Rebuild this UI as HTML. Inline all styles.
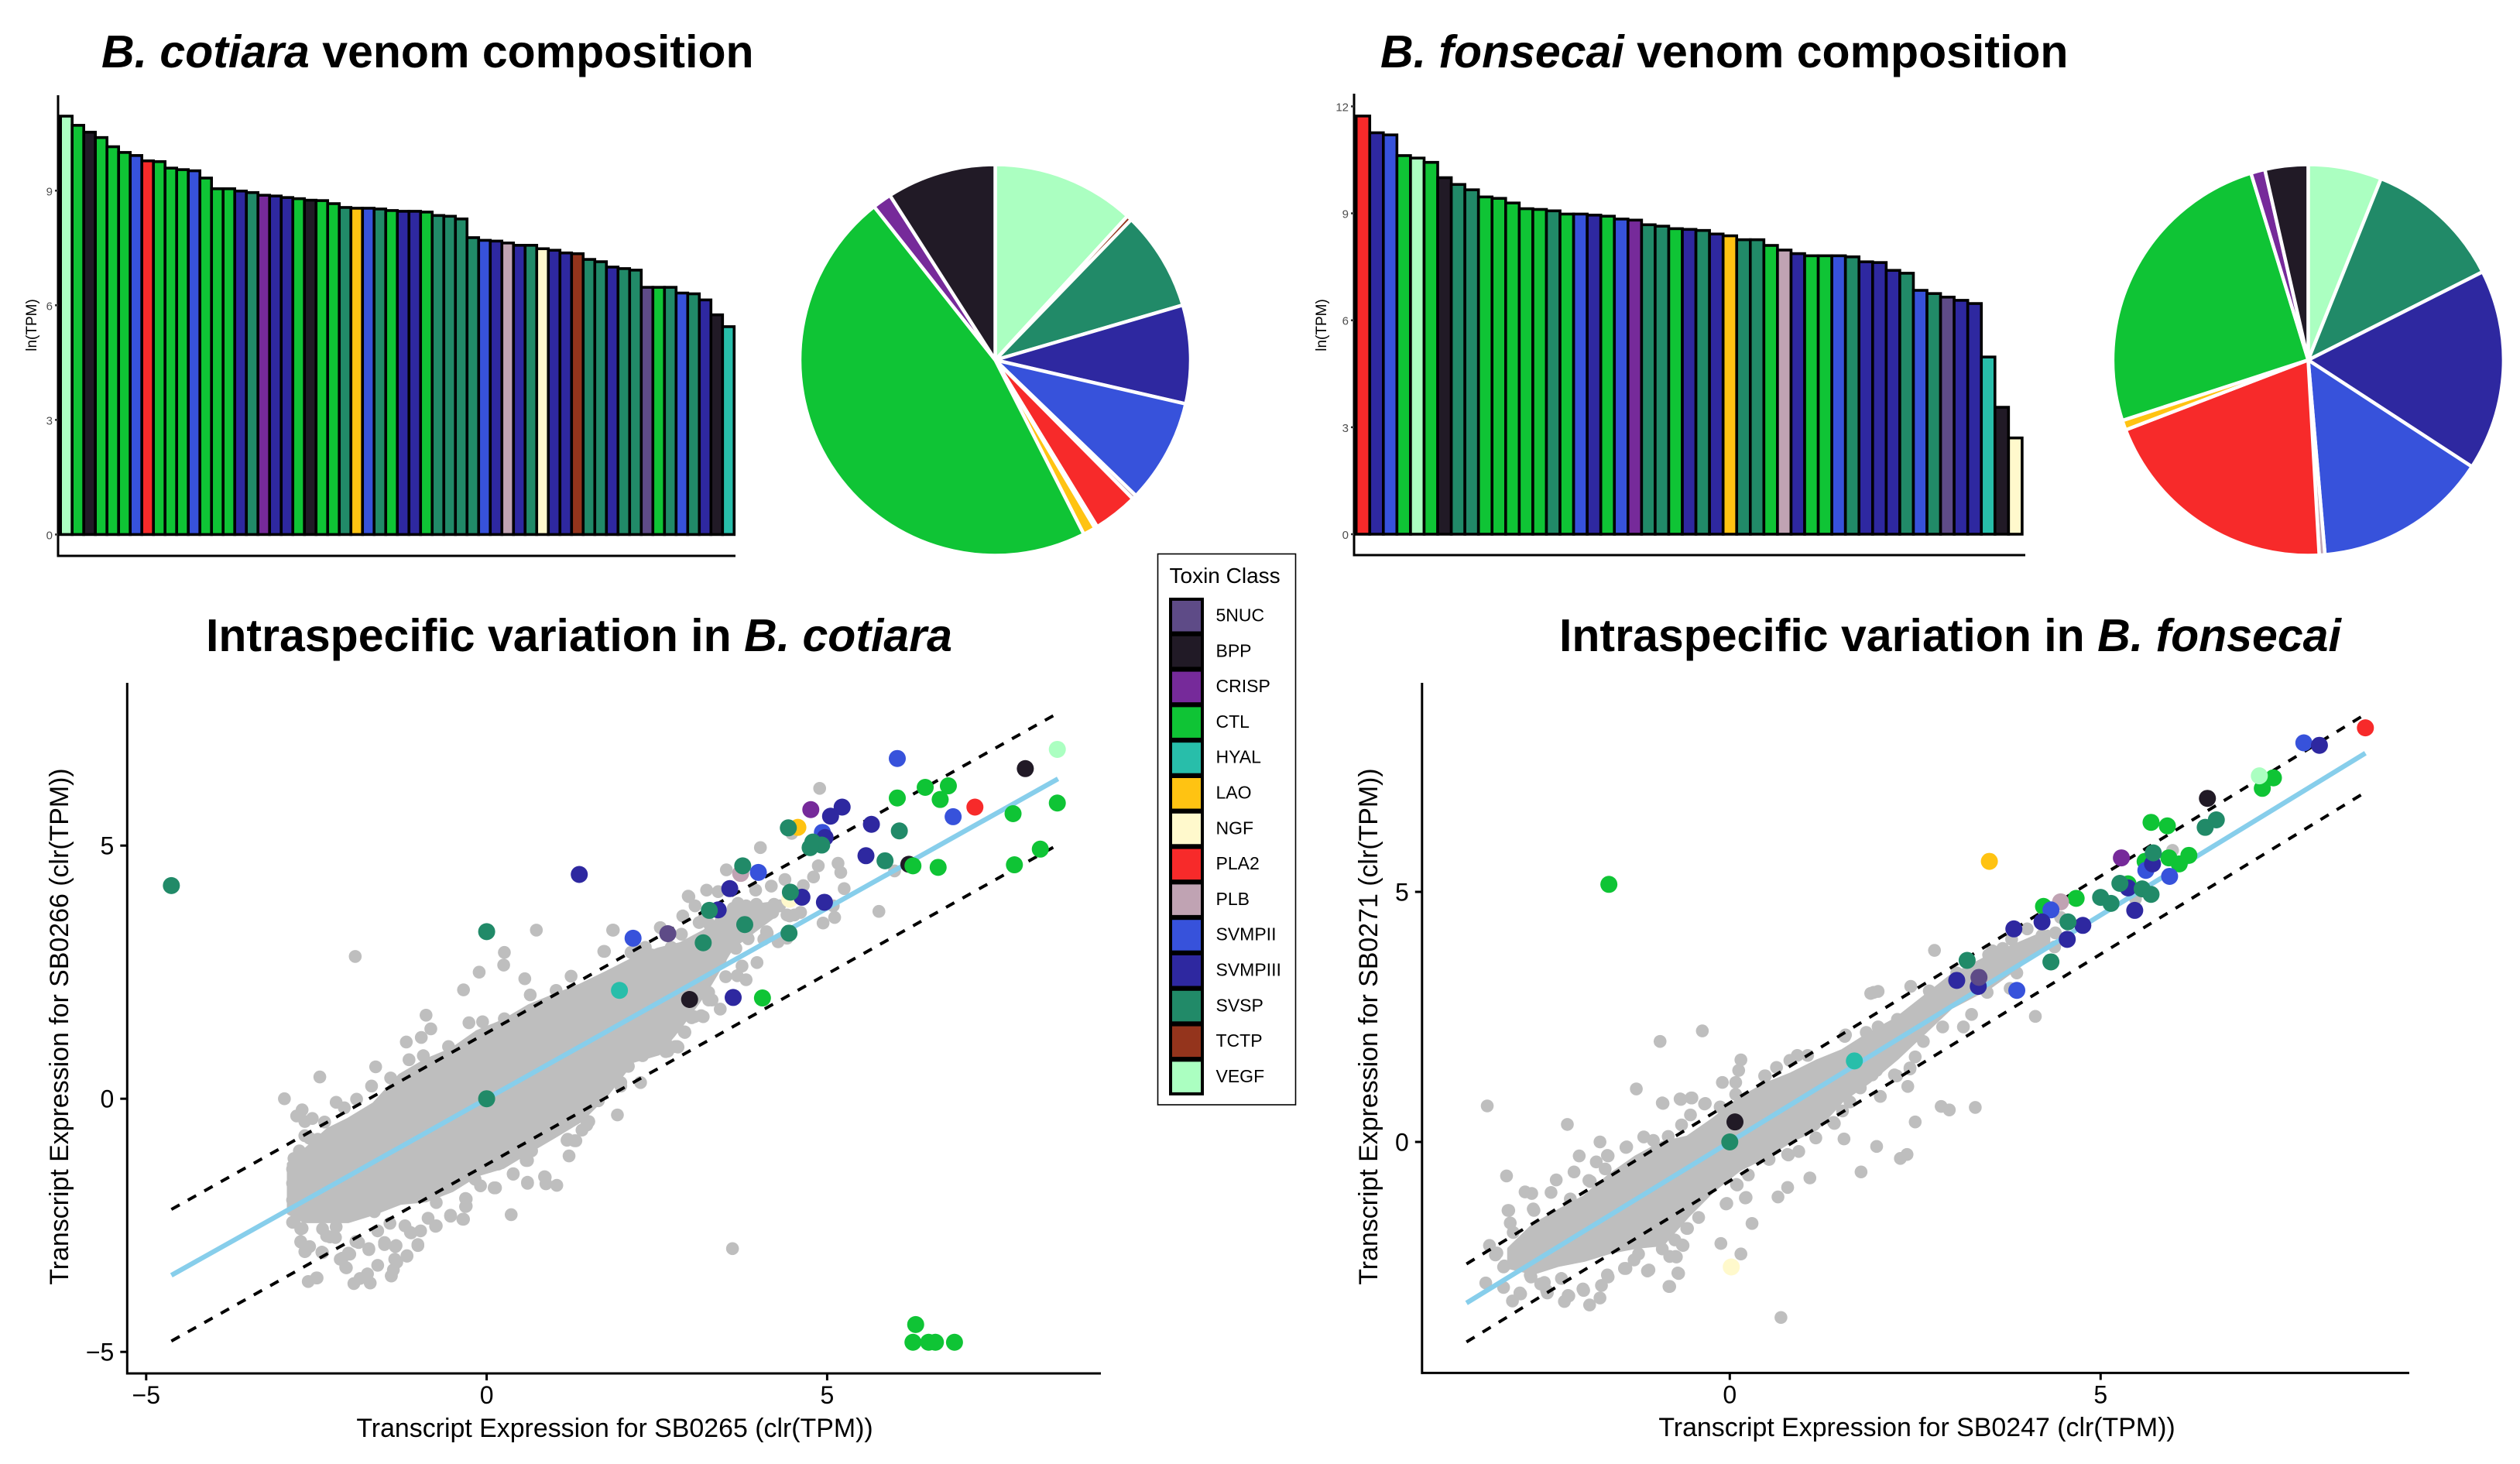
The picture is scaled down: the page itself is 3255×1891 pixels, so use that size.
<!DOCTYPE html>
<html lang="en">
<head>
<meta charset="utf-8">
<title>Venom composition and intraspecific variation</title>
<style>
html,body{margin:0;padding:0;background:#fff}
svg{display:block}
text{font-family:"Liberation Sans",sans-serif;fill:#000}
.title{font-size:59px;font-weight:700}
.title tspan.i{font-style:italic}
.axis-title{font-size:33.9px}
.tick{font-size:32px}
.small-tick{font-size:15px;fill:#4d4d4d}
.small-title{font-size:19px}
.legend-label{font-size:23px}
</style>
</head>
<body>
<svg id="fig" xmlns="http://www.w3.org/2000/svg" width="3255" height="1891" viewBox="0 0 3255 1891">
  <rect width="3255" height="1891" fill="#fff"/>
  <text class="title" x="131" y="87"><tspan class="i">B. cotiara</tspan> venom composition</text>
  <text class="title" x="1783" y="87"><tspan class="i">B. fonsecai</tspan> venom composition</text>
  <text class="title" x="266" y="841">Intraspecific variation in <tspan class="i">B. cotiara</tspan></text>
  <text class="title" x="2014" y="841">Intraspecific variation in <tspan class="i">B. fonsecai</tspan></text>

  <g id="bars1"></g>
  <g id="pie1"></g>
  <g id="bars2"></g>
  <g id="pie2"></g>
  <g id="scatter1"></g>
  <g id="scatter2"></g>

  <g id="legend">
    <rect x="1495.5" y="715.5" width="178" height="711.5" fill="#fff" stroke="#000" stroke-width="1.6"/>
    <text x="1510.5" y="753" style="font-size:28px">Toxin Class</text>
  </g>
</svg>
<script>
// ---------- shared class palette ----------
const classNames = ['5NUC','BPP','CRISP','CTL','HYAL','LAO','NGF','PLA2','PLB','SVMPII','SVMPIII','SVSP','TCTP','VEGF'];
const classColors = ['#5E4B87','#211A26','#762A9A','#0FC435','#28BEAA','#FFC312','#FFF9CC','#F72A2A','#C0A3B3','#3752DB','#2E28A0','#218A68','#94341C','#ABFFC1'];

// ---------- bar chart data ----------
const barClasses1 = ['VEGF','CTL','BPP','CTL','CTL','CTL','SVMPII','PLA2','CTL','CTL','CTL','SVMPII','CTL','CTL','CTL','SVMPIII','SVSP','CRISP','SVMPIII','SVMPIII','CTL','BPP','CTL','CTL','SVSP','LAO','SVMPII','SVSP','CTL','SVMPIII','SVMPIII','CTL','SVSP','SVSP','SVSP','SVSP','SVMPII','SVMPIII','PLB','SVMPIII','SVSP','NGF','SVMPIII','SVMPIII','TCTP','SVSP','SVSP','SVMPIII','SVSP','SVSP','5NUC','CTL','SVSP','SVMPII','SVSP','SVMPIII','BPP','HYAL'];
const barValues1 = [10.95,10.71,10.53,10.39,10.15,10.0,9.92,9.78,9.76,9.59,9.55,9.52,9.33,9.05,9.05,8.99,8.95,8.88,8.86,8.82,8.79,8.75,8.74,8.66,8.56,8.54,8.54,8.52,8.48,8.46,8.46,8.44,8.35,8.33,8.26,7.77,7.70,7.68,7.63,7.57,7.57,7.48,7.44,7.37,7.35,7.20,7.14,7.0,6.96,6.92,6.47,6.47,6.47,6.32,6.30,6.14,5.75,5.44];
const barTicks1 = [0,3,6,9];
const barClasses2 = ['PLA2','SVMPIII','SVMPII','CTL','VEGF','CTL','BPP','SVSP','SVSP','CTL','CTL','CTL','CTL','CTL','SVSP','CTL','SVMPII','SVMPIII','CTL','SVMPII','CRISP','SVSP','SVSP','CTL','SVMPIII','SVSP','SVMPIII','LAO','SVSP','SVSP','CTL','PLB','SVMPIII','CTL','CTL','SVMPII','SVSP','SVMPIII','SVMPIII','SVMPIII','SVSP','SVMPII','SVSP','5NUC','SVMPIII','SVMPIII','HYAL','BPP','NGF'];
const barValues2 = [11.73,11.26,11.2,10.62,10.55,10.43,10.0,9.81,9.66,9.46,9.42,9.29,9.13,9.11,9.07,8.98,8.98,8.95,8.92,8.84,8.81,8.68,8.64,8.57,8.55,8.52,8.42,8.37,8.26,8.26,8.1,7.97,7.87,7.81,7.81,7.81,7.78,7.64,7.62,7.4,7.32,6.84,6.75,6.65,6.56,6.47,4.97,3.56,2.7];
const barTicks2 = [0,3,6,9,12];

// ---------- pie chart data (percent of total, clockwise from 12 o'clock) ----------
const pieClasses1 = ['VEGF','TCTP','SVSP','SVMPIII','SVMPII','PLB','PLA2','NGF','LAO','CTL','CRISP','BPP'];
const pieValues1 = [11.83,0.42,8.22,8.14,8.61,0.36,3.69,0.22,1.03,46.86,1.58,9.06];
const pieClasses2 = ['VEGF','SVSP','SVMPIII','SVMPII','PLB','PLA2','LAO','CTL','CRISP','BPP'];
const pieValues2 = [6.08,11.47,16.64,14.44,0.47,20.08,0.81,25.28,1.17,3.56];

// ---------- scatter 1 (B. cotiara) data ----------
const xTicks1 = [-5,0,5];
const yTicks1 = [-5,0,5];
const fitSlope1 = 0.753;
const fitBand1 = 1.3;
const fitRange1 = [-4.63,8.39];
// saturated overplotted core of the grey cloud: x, upper edge, lower edge
const coreX1 = [-2.9,-2.67,-2.33,-2.03,-1.65,-1.27,-0.89,-0.51,-0.14,0.24,0.62,1.0,1.38,1.76,2.14,2.52,2.85,3.2,3.6,4.2];
const coreUpper1 = [-1.29,-1.03,-0.62,-0.42,-0.11,0.45,0.75,0.96,1.31,1.52,1.82,2.03,2.23,2.48,2.74,2.94,3.05,3.3,3.75,3.85];
const coreLower1 = [-2.25,-2.41,-2.41,-2.41,-2.25,-2.05,-2.0,-1.8,-1.49,-1.34,-1.03,-0.73,-0.42,0.09,0.75,0.9,1.45,2.1,3.0,3.6];
const grayPoints1 = [[-1.93,2.81],[0.73,3.33],[1.86,3.33],[0.26,2.89],[0.25,2.64],[-0.11,2.5],[-0.34,2.15],[0.56,2.37],[1.72,2.91],[-0.89,1.65],[-0.82,1.38],[-0.96,1.21],[-1.18,1.12],[-0.26,1.5],[-0.06,1.52],[-0.56,1.03],[-1.14,0.77],[-0.93,0.85],[-1.63,0.63],[-1.41,0.41],[-1.69,0.25],[-2.45,0.43],[-2.97,0],[-2.21,-0.07],[-1.91,-0.01],[-2.71,-0.22],[-2.79,-0.34],[-2.56,-0.39],[-2.67,-0.45],[-2.38,-0.46],[-2.09,-0.18],[0.64,2.05],[1.02,2.14],[1.24,2.42],[0.26,1.58],
[0.36,-2.29],[1.21,-1.13],[1.92,-0.32],[2.26,0.32],[1.97,0.25],[1.03,-1.71],[0.86,-1.55],[0.87,-1.68],[0.6,-1.67],[0.11,-1.76],[-0.09,-1.72],[0.39,-1.49],[0.6,-1.22],[1.18,-0.82],[1.31,-0.83],[1.5,-0.45],[-0.35,-2.38],[-0.3,-2.12],[-0.3,-1.98],[-0.53,-2.32],[-0.75,-2.52],[-1.01,-2.9],[-0.97,-2.61],[-1.17,-3.11],[-1.32,-3.23],[-1.4,-3.5],[-1.34,-2.92],[-1.5,-2.88],[-1.6,-3.29],[-1.73,-2.98],[-1.71,-3.64],[-1.75,-3.46],[-1.95,-3.65],[-2.06,-3.34],[-2.15,-3.17],[-2.01,-3.07],[-2.41,-3.04],[-2.5,-3.54],[-2.62,-3.61],[-2.66,-3.01],[-2.73,-2.83],[-2.3,-2.73],[-2.41,-2.57],[-2.85,-2.44],[-2.73,-2.57],[-1.88,-2.84],[-1.6,-2.61],[-2.21,-2.53],[-1.11,-2.65],[2.97,3.99],[2.88,3.61],[2.66,0.94],[2.81,1.02],[2.91,1.31],[3.01,1.6],
[4.89,6.13],[4.48,5.24],[4.02,4.96],[3.52,4.52],[4.87,4.6],[5.16,4.65],[5.2,4.47],[4.8,4.38],[5.25,4.15],[5.76,3.7],[4.38,4.33],[4.18,4.2],[4.65,4.21],[3.95,4.12],[3.23,4.12],[2.96,4.0],[3.4,4.09],[3.06,3.81],[2.55,3.38],[1.85,3.33],[1.73,2.91],[5.11,3.58],[4.94,3.47],[4.61,3.68],[4.45,3.61],[4.12,3.27],[4.28,3.1],[3.84,3.16],[3.66,2.97],[3.97,2.69],[3.75,2.62],[3.43,2.75],[3.51,2.41],[3.81,2.35],[3.68,2.43],[3.43,1.77],[3.26,1.95],[2.9,1.32],[3.18,1.62],[3.04,1.62],[2.74,1.7],[2.69,1.31],[2.77,1.03],[2.63,0.93],[2.08,0.64],[1.97,0.32],[5.99,4.5],[2.99,2.98],[3.61,-2.96],
[5.09,3.81],[4.52,3.63],[4.41,3.63],[4.3,3.81],[4.22,3.84],[4.2,3.68],[4.07,3.63],[3.96,3.84],[3.81,3.81],[3.69,3.86],[3.2,3.61],[3.44,3.5],[3.27,3.45],[3.12,3.48],[3.62,3.76],[3.54,3.61],[3.63,3.35],[3.65,3.17],[4.11,3.3],[4.07,3.15],[4.41,3.17],[3.35,3.25],[3.41,3.17],[3.31,3.05],[2.86,3.25],[2.71,2.99],[2.8,2.79],[3.12,2.66],[3.12,2.48],[2.67,2.69],[2.67,2.48],[2.48,2.28],[2.25,2.56],[2.14,2.43],[2.42,2.84],[2.33,2.99],[2.23,2.92],[2.12,2.89],[3.26,2.1],[3.31,1.95],[3.15,1.64],[3.05,1.62],[2.86,1.7],[2.91,1.32],[2.67,1.33],[2.8,1.03],[2.65,1.06],[2.9,2.43],[3.09,2.38],[2.71,2.23],[2.9,2.18],[3.09,2.18],[2.52,1.92],[2.78,1.98],[2.48,1.62],[2.33,1.41],
[-2.6,-0.78],[-2.48,-0.8],[-2.75,-1.03],[-2.83,-1.18],[-2.85,-1.39],[-2.85,-1.67],[-2.85,-2.0],[-2.67,-0.73],[-2.83,-2.43],[-2.71,-2.56],[-2.73,-2.82],[-2.67,-3.02],[-2.42,-3.03],[-2.6,-2.92],[-2.49,-3.54],[-2.35,-2.71],[-2.22,-2.74],[-1.86,-3.55],[-1.4,-3.5],[-1.37,-3.38],[-1.35,-3.17],[-1.17,-3.1],[-2.07,-3.33],[-2.12,-3.15],[-2.03,-3.05],[-1.92,-2.82],[-1.73,-2.96],[-1.5,-2.84],[-1.33,-2.9],[-1.01,-2.88],[-1.12,-2.64],[-1.42,-2.46],[-1.2,-2.51],[-0.74,-2.51],[-0.86,-2.36],[-1.65,-2.23],[-0.74,-2.05],[-0.53,-2.3],[-0.34,-2.38],[-0.31,-2.13],[-0.31,-1.97],[0.6,-1.65],[0.85,-1.54],[0.39,-1.48],[0.13,-1.76],[-0.17,-1.59],[0.58,-1.22],[0.17,-1.29],[2.08,0.64],[1.19,-0.8],[1.29,-0.83],[1.47,-0.52],[1.4,-0.62],[0.81,-0.78],[0.66,-1.03],[1.64,-0.04],[2.29,0.85],[2.59,1.0]];
const highlights1 = [['SVMPIII',1.36,4.43],['SVMPII',6.03,6.72],['VEGF',8.38,6.9],['BPP',7.91,6.52],['CTL',6.78,6.18],['CTL',6.44,6.15],['CTL',6.66,5.91],['CTL',6.03,5.94],['PLA2',7.17,5.76],['CTL',8.38,5.84],['SVMPII',6.85,5.57],['CTL',7.73,5.63],['CRISP',4.76,5.71],['SVMPIII',5.22,5.76],['SVMPIII',5.05,5.58],['SVMPIII',5.65,5.42],['SVSP',6.06,5.29],['LAO',4.57,5.36],['SVSP',4.43,5.35],['SVMPII',4.93,5.26],['SVMPIII',4.97,5.16],['SVSP',4.79,5.07],['SVSP',4.92,5.01],['SVSP',4.75,4.96],['CTL',8.13,4.93],['CTL',7.75,4.62],['SVMPIII',5.57,4.8],['SVSP',5.85,4.7],['BPP',6.2,4.63],['CTL',6.26,4.6],['CTL',6.63,4.57],['PLB',3.73,4.45],['SVSP',3.76,4.6],['SVMPII',3.99,4.47],['SVMPIII',3.57,4.15],['NGF',4.45,3.94],['SVMPIII',4.63,3.98],['SVSP',4.46,4.08],['SVMPIII',4.96,3.88],['SVMPIII',3.4,3.73],['SVSP',3.27,3.72],['SVSP',3.79,3.44],['SVSP',4.44,3.27],['SVSP',3.18,3.08],['5NUC',2.66,3.26],['SVMPII',2.15,3.17],['HYAL',1.95,2.14],['BPP',2.98,1.96],['SVMPIII',3.62,2.0],['CTL',4.05,1.99],['SVSP',-4.63,4.21],['SVSP',0,3.3],['SVSP',0,0],['CTL',6.3,-4.46],['CTL',6.26,-4.81],['CTL',6.49,-4.81],['CTL',6.59,-4.81],['CTL',6.87,-4.81]];

// ---------- scatter 2 (B. fonsecai) data ----------
const xTicks2 = [0,5];
const yTicks2 = [0,5];
const fitSlope2 = 0.907;
const fitBand2 = 0.78;
const fitRange2 = [-3.55,8.57];
const coreX2 = [-2.97,-2.65,-2.31,-1.96,-1.61,-1.26,-0.91,-0.57,-0.22,0.13,0.48,0.82,1.17,1.52,1.87,2.25,2.98,3.5,4.29];
const coreUpper2 = [-2.14,-1.68,-1.39,-1.11,-0.67,-0.31,-0.03,0.08,0.44,0.85,1.14,1.34,1.6,1.81,2.14,2.45,3.3,3.7,4.2];
const coreLower2 = [-2.5,-2.61,-2.45,-2.35,-2.19,-2.09,-2.04,-1.47,-0.95,-0.54,-0.28,0.03,0.28,0.85,1.21,1.68,2.7,3.1,3.95];
const grayPoints2 = [[-3.27,0.72],[-2.19,0.35],[-0.94,2.01],[-0.37,2.22],[-1.26,1.06],[0.15,1.64],[0.12,1.43],[-0.1,1.19],[0.08,1.19],[-0.67,0.86],[-0.52,0.88],[-0.34,0.76],[-0.91,0.78],[-1.75,0],[-1.4,-0.11],[-1.16,0.1],[-1.03,0.03],[-0.83,0.11],[-2.03,-0.28],[-1.65,-0.27],[-1.8,-0.4],[-2.1,-0.6],[-3.01,-0.68],[-2.34,-0.76],[-1.88,-0.79],[-2.76,-1.0],[-2.67,-1.03],[-2.41,-1.01],[-2.99,-1.37],[-2.65,-1.34],[-2.96,-1.62],[-2.92,-1.81],[-3.24,-2.07],[-3.16,-2.26],[-3.05,-2.5],[-3.29,-2.82],[-3.05,-2.91],[-2.93,-3.18],[-2.82,-3.04],[-2.68,-2.7],[-2.55,-2.84],[-2.47,-2.97],[-2.23,-3.19],[-2.17,-3.08],[-1.97,-2.97],[-1.89,-3.26],[-1.75,-3.12],[-1.73,-2.87],[-1.64,-2.7],[-1.4,-2.53],[-1.29,-2.36],[-1.09,-2.56],[-0.81,-2.89],[-0.69,-2.63],[-0.73,-2.29],[-0.63,-2.07],[-0.81,-2.29],[0.15,-2.24],[-0.12,-2.03],[0.3,-1.63],[0.69,-3.51],[0.21,-1.12],[-0.04,-1.23],[0.1,-0.86],[-0.42,-1.51],[-0.58,-1.73],[0.65,-1.1],[0.78,-0.91],[1.08,-0.72],[0.53,-0.35],[0.93,-0.19],[0.78,-0.25],[1.16,0.08],[1.54,0.06],[1.77,-0.6],[1.98,-0.09],[2.3,-0.33],[2.39,-0.25],[2.5,0.4],[2.03,0.91],[1.41,0.37],[2.25,1.32],[2.4,1.11],[2.43,1.46],[1.98,1.43],[2.85,0.71],[2.96,0.64],[2.76,3.83],[1.9,2.97],[2.0,3.01],[2.44,3.11],[1.55,2.11],[0.91,1.73],[0.63,1.49],[0.47,1.32],[0.81,1.63],
[4.01,4.26],[3.8,4.05],[4.21,4.13],[4.39,4.18],[4.46,4.49],[3.54,3.82],[3.68,3.87],[3.8,3.77],[4.03,3.85],[4.22,3.97],[4.38,3.9],[3.87,3.38],[3.78,3.07],[3.47,2.99],[3.26,2.55],[4.12,2.51],[3.15,2.3],[2.61,2.01],[2.87,2.3],[2.5,1.7],[2.43,1.48],[5.47,4.86],[5.97,5.83],[3.31,0.69],
[-2.98,-1.37],[-2.64,-1.37],[-3.14,-2.22],[-3.04,-2.48],[-2.83,-3.02],[-2.46,-3.02],[-2.18,-3.07],[-1.98,-2.94],[-2.69,-2.66],[-2.5,-2.81],[-2.27,-2.73],[-1.42,-2.53],[-1.65,-2.66],[-1.23,-2.24],[-1.11,-2.58],[-0.7,-2.62],[-0.82,-2.89],[-0.72,-2.3],[-0.64,-2.06],[-0.74,-1.96],[-0.91,-2.14],[-0.57,-1.73],[-0.05,-1.24],[0.22,-1.11],[0.09,-0.85],[0.25,-0.66],[0.79,-0.26],[1.4,0.39],[1.52,0.62],[1.62,0.8],[1.76,1.08],[1.92,1.34],[2.22,1.34],
[-0.9,0.77],[-0.66,0.85],[-0.51,0.88],[-0.33,0.77],[0.08,0.95],[-0.53,0.54],[-0.65,0.34],[-1.39,-0.1],[-1.64,-0.28],[-1.68,-0.54],[-1.9,-0.77],[-2.15,-1.14],[0.48,1.32],[1.05,1.73],[1.56,2.14],[1.94,2.99],[-0.13,0.7],
[2.0,2.3],[2.26,2.45],[1.84,2.19],[2.05,1.78],[2.37,2.09],[2.53,2.6],[2.69,3.02],[2.79,2.92],[3.06,3.38],[3.49,3.74],[3.59,3.53],[3.65,3.38],[3.75,3.53],[3.43,3.43],[3.22,3.17],[3.0,3.02],[2.79,2.55],[2.58,2.3]];
const highlights2 = [['PLA2',8.57,8.28],['SVMPII',7.74,7.98],['SVMPIII',7.95,7.93],['CTL',7.33,7.28],['CTL',7.18,7.07],['VEGF',7.14,7.32],['BPP',6.44,6.87],['SVSP',6.56,6.44],['SVSP',6.41,6.29],['CTL',5.68,6.39],['CTL',5.9,6.32],['LAO',3.5,5.61],['CRISP',5.28,5.68],['CTL',6.19,5.73],['CTL',5.92,5.68],['CTL',6.06,5.56],['CTL',5.6,5.61],['SVMPII',5.61,5.43],['SVMPIII',5.7,5.56],['SVSP',5.71,5.78],['SVMPII',5.93,5.31],['CTL',5.37,5.16],['SVMPIII',5.37,5.08],['SVSP',5.26,5.17],['SVSP',5.56,5.06],['SVSP',5.68,4.95],['SVSP',5.0,4.89],['SVSP',5.14,4.77],['CTL',4.67,4.87],['PLB',4.46,4.8],['CTL',4.23,4.71],['SVMPII',4.33,4.64],['SVMPIII',5.46,4.63],['SVMPIII',4.21,4.4],['SVMPIII',4.76,4.33],['SVSP',4.56,4.4],['SVMPIII',3.83,4.26],['SVMPIII',4.55,4.05],['SVSP',4.33,3.6],['SVSP',3.2,3.63],['SVMPIII',3.06,3.23],['SVMPIII',3.35,3.11],['5NUC',3.36,3.29],['SVMPII',3.87,3.03],['HYAL',1.68,1.62],['BPP',0.07,0.4],['SVSP',0,0],['NGF',0.02,-2.5],['CTL',-1.63,5.15]];

// ---------- drawing helpers ----------
const NS = 'http://www.w3.org/2000/svg';
function mk(parent, tag, attrs, txt){
  const el = document.createElementNS(NS, tag);
  for (const k in attrs) el.setAttribute(k, attrs[k]);
  if (txt !== undefined) el.textContent = txt;
  parent.appendChild(el);
  return el;
}
function colorOf(c){ return classColors[classNames.indexOf(c)]; }
function label(v){ return v < 0 ? '\u2212' + Math.abs(v) : String(v); }

function drawBars(target, classes, values, ticks, g){
  const root = document.getElementById(target);
  const sy = v => g.zeroY - v * g.unit;
  const step = (g.right - g.left) / values.length;
  values.forEach((v, i) => {
    const b = mk(root, 'rect', {x:g.left + i*step, y:sy(v), width:step, height:g.zeroY - sy(v), fill:colorOf(classes[i]), stroke:'#000', 'stroke-width':3.6});
    
    
  });
  const ya = mk(root, 'line', {x1:g.axisX, x2:g.axisX, y1:g.top, y2:g.bottom, stroke:'#000', 'stroke-width':3});
  
  
  const xa = mk(root, 'line', {x1:g.axisX - 1.5, x2:g.axisEnd, y1:g.bottom, y2:g.bottom, stroke:'#000', 'stroke-width':3});
  
  
  ticks.forEach(t => {
    const tk = mk(root, 'line', {x1:g.axisX - 4, x2:g.axisX, y1:sy(t), y2:sy(t), stroke:'#333', 'stroke-width':2.5});
    
    
    const tl = mk(root, 'text', {x:g.axisX - 7, y:sy(t) + 6, 'text-anchor':'end', class:'small-tick'}, label(t));
    
    
  });
  const yt = mk(root, 'text', {transform:'translate(' + g.titleX + ' 420) rotate(-90)', 'text-anchor':'middle', class:'small-title'}, 'ln(TPM)');
  
  
}

function drawPie(target, classes, values, g){
  const root = document.getElementById(target);
  const total = values.reduce((a, b) => a + b, 0);
  let acc = 0;
  values.forEach((v, i) => {
    const a0 = acc / total * 2 * Math.PI;
    acc += v;
    const a1 = acc / total * 2 * Math.PI;
    const p0 = [g.cx + g.r * Math.sin(a0), g.cy - g.r * Math.cos(a0)];
    const p1 = [g.cx + g.r * Math.sin(a1), g.cy - g.r * Math.cos(a1)];
    const large = a1 - a0 > Math.PI ? 1 : 0;
    const d = 'M' + g.cx + ' ' + g.cy + 'L' + p0[0] + ' ' + p0[1] + 'A' + g.r + ' ' + g.r + ' 0 ' + large + ' 1 ' + p1[0] + ' ' + p1[1] + 'Z';
    const s = mk(root, 'path', {d:d, fill:colorOf(classes[i]), stroke:'#fff', 'stroke-width':4.5, 'stroke-linejoin':'miter'});
    
    
  });
}

function drawScatter(target, d, g){
  const root = document.getElementById(target);
  const sx = v => g.x0 + v * g.ux;
  const sy = v => g.y0 - v * g.uy;

  // saturated grey core
  const pts = d.coreX.map((x, i) => sx(x) + ',' + sy(d.coreUpper[i]))
    .concat(d.coreX.map((x, i) => sx(x) + ',' + sy(d.coreLower[i])).reverse());
  const core = mk(root, 'polygon', {points:pts.join(' '), fill:'#BEBEBE', stroke:'#BEBEBE', 'stroke-width':6, 'stroke-linejoin':'round'});
  
  

  d.gray.forEach(p => {
    const c = mk(root, 'circle', {cx:sx(p[0]), cy:sy(p[1]), r:8.3, fill:'#BEBEBE'});
    
    
  });

  // fit line and dashed bands
  const fit = mk(root, 'line', {x1:sx(d.range[0]), y1:sy(d.range[0]*d.slope), x2:sx(d.range[1]), y2:sy(d.range[1]*d.slope), stroke:'#87CEEB', 'stroke-width':6.3});
  
  
  [d.band, -d.band].forEach(off => {
    const l = mk(root, 'line', {x1:sx(d.range[0]), y1:sy(d.range[0]*d.slope + off), x2:sx(d.range[1]), y2:sy(d.range[1]*d.slope + off), stroke:'#000', 'stroke-width':4, 'stroke-dasharray':'12.2 12.2'});
    
    
  });

  d.highlights.forEach(p => {
    const c = mk(root, 'circle', {cx:sx(p[1]), cy:sy(p[2]), r:11, fill:colorOf(p[0])});
    
    
  });

  // axes
  const ya = mk(root, 'line', {x1:g.axisX, x2:g.axisX, y1:g.top, y2:g.axisY + 1.5, stroke:'#000', 'stroke-width':3});
  
  
  const xa = mk(root, 'line', {x1:g.axisX, x2:g.right, y1:g.axisY, y2:g.axisY, stroke:'#000', 'stroke-width':3});
  
  
  d.xTicks.forEach(t => {
    const tk = mk(root, 'line', {x1:sx(t), x2:sx(t), y1:g.axisY, y2:g.axisY + 9, stroke:'#000', 'stroke-width':3});
    
    
    const tl = mk(root, 'text', {x:sx(t), y:g.axisY + 39, 'text-anchor':'middle', class:'tick'}, label(t));
    
    
  });
  d.yTicks.forEach(t => {
    const tk = mk(root, 'line', {x1:g.axisX - 9, x2:g.axisX, y1:sy(t), y2:sy(t), stroke:'#000', 'stroke-width':3});
    
    
    const tl = mk(root, 'text', {x:g.axisX - 17, y:sy(t) + 11.5, 'text-anchor':'end', class:'tick'}, label(t));
    
    
  });
  const xt = mk(root, 'text', {x:g.xTitleX, y:g.xTitleY, 'text-anchor':'middle', class:'axis-title'}, d.xLabel);
  
  
  const yt = mk(root, 'text', {transform:'translate(' + g.yTitleX + ' 1326) rotate(-90)', 'text-anchor':'middle', class:'axis-title'}, d.yLabel);
  
  
}

// ---------- render ----------
drawBars('bars1', barClasses1, barValues1, barTicks1, {left:78.2, right:948.3, zeroY:690.4, unit:49.35, axisX:75, axisEnd:950, top:123, bottom:718, titleX:47});
drawBars('bars2', barClasses2, barValues2, barTicks2, {left:1751.7, right:2611.9, zeroY:690, unit:46.05, axisX:1749, axisEnd:2616, top:121, bottom:717, titleX:1713});
drawPie('pie1', pieClasses1, pieValues1, {cx:1285.5, cy:465, r:252.5});
drawPie('pie2', pieClasses2, pieValues2, {cx:2981.4, cy:465, r:252.5});
drawScatter('scatter1', {
  coreX:coreX1, coreUpper:coreUpper1, coreLower:coreLower1, gray:grayPoints1, highlights:highlights1,
  slope:fitSlope1, band:fitBand1, range:fitRange1, xTicks:xTicks1, yTicks:yTicks1,
  xLabel:'Transcript Expression for SB0265 (clr(TPM))', yLabel:'Transcript Expression for SB0266 (clr(TPM))'
}, {x0:628.6, ux:87.96, y0:1419.2, uy:65.4, axisX:164.3, axisY:1774, top:882, right:1422, xTitleX:794, xTitleY:1856, yTitleX:88});
drawScatter('scatter2', {
  coreX:coreX2, coreUpper:coreUpper2, coreLower:coreLower2, gray:grayPoints2, highlights:highlights2,
  slope:fitSlope2, band:fitBand2, range:fitRange2, xTicks:xTicks2, yTicks:yTicks2,
  xLabel:'Transcript Expression for SB0247 (clr(TPM))', yLabel:'Transcript Expression for SB0271 (clr(TPM))'
}, {x0:2234.3, ux:95.8, y0:1475, uy:64.6, axisX:1836.8, axisY:1773.4, top:882, right:3112, xTitleX:2476, xTitleY:1855, yTitleX:1779});

// legend rows
const legendRoot = document.getElementById('legend');
classNames.forEach((name, i) => {
  const top = 774 + i * 45.8;
  const sw = mk(legendRoot, 'rect', {x:1512, y:top, width:41, height:43.5, fill:classColors[i], stroke:'#000', 'stroke-width':4});
  
  
  const lb = mk(legendRoot, 'text', {x:1570.5, y:802.5 + i * 45.8, class:'legend-label'}, name);
  
  
});
</script>
</body>
</html>
